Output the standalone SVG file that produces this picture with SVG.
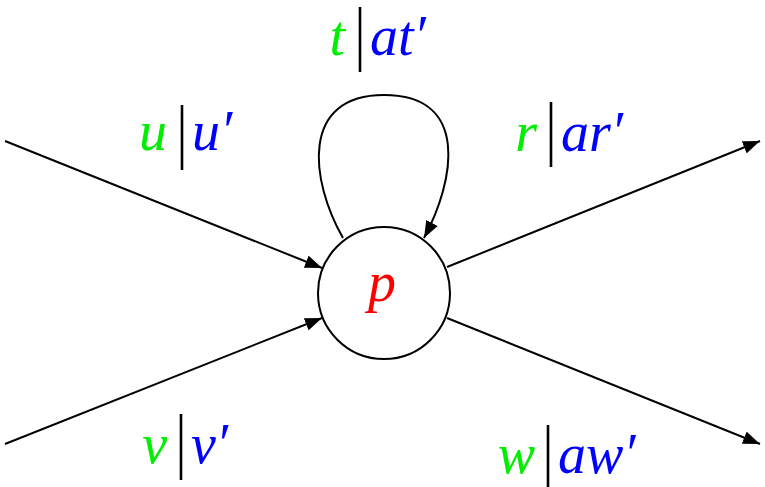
<svg xmlns="http://www.w3.org/2000/svg" width="765" height="487" viewBox="0 0 765 487">
<style>
.m{font-family:"Liberation Serif","Times New Roman",serif;font-style:italic;font-size:56px}
.g{fill:#00ee00;text-anchor:end}
.b{fill:#0000ff}
.r{fill:#ff0000;text-anchor:middle}
.bar{stroke:#000;stroke-width:2.6}
.e{fill:none;stroke:#000;stroke-width:2}
</style>
<defs>
<marker id="ah" markerUnits="userSpaceOnUse" markerWidth="18" markerHeight="13" refX="17" refY="6.5" orient="auto">
<path d="M0,0 L17,6.5 L0,13 z" fill="#000"/>
</marker>
</defs>
<g id="p">
<circle cx="384" cy="293" r="66" fill="#fff" stroke="#000" stroke-width="2"/>
<text class="m r" x="382" y="301">p</text>
</g>
<g id="connectors">
<path class="e" d="M5,141 L322,268" marker-end="url(#ah)"/>
<path class="e" d="M5,444 L322,318" marker-end="url(#ah)"/>
<path class="e" d="M447,267 L760,141" marker-end="url(#ah)"/>
<path class="e" d="M447,318 L760,444" marker-end="url(#ah)"/>
<path class="e" d="M343,238 C310,180 300,95 384,95 C470,95 455,180 424,238" marker-end="url(#ah)"/>
</g>
<g id="label-t">
<text class="m g" x="345" y="55">t</text>
<line class="bar" x1="360" y1="7" x2="360" y2="72"/>
<text class="m b" x="370" y="55">at′</text>
</g>
<g id="label-u">
<text class="m g" x="167" y="150">u</text>
<line class="bar" x1="182" y1="105" x2="182" y2="170"/>
<text class="m b" x="192" y="150">u′</text>
</g>
<g id="label-r">
<text class="m g" x="537" y="151">r</text>
<line class="bar" x1="551" y1="102" x2="551" y2="167"/>
<text class="m b" x="561" y="151">ar′</text>
</g>
<g id="label-v">
<text class="m g" x="167" y="463">v</text>
<line class="bar" x1="181" y1="414" x2="181" y2="480"/>
<text class="m b" x="191" y="463">v′</text>
</g>
<g id="label-w">
<text class="m g" x="535" y="473">w</text>
<line class="bar" x1="548" y1="425" x2="548" y2="487"/>
<text class="m b" x="558" y="473">aw′</text>
</g>
</svg>
